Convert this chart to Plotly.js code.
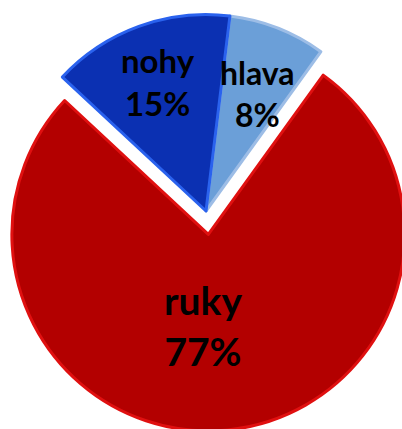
<!DOCTYPE html>
<html>
<head>
<meta charset="utf-8">
<script src="https://cdn.plot.ly/plotly-3.0.1.min.js"></script>
<style>
html,body{margin:0;padding:0;background:#fff;overflow:hidden;width:402px;height:429px;}
#chart{position:absolute;left:-14px;top:-9px;width:440px;height:440px;}
</style>
</head>
<body>
<div id="chart"></div>
<script>
var labels = ["hlava", "ruky", "nohy"];
var values = [8, 77, 15];
var colors = ["#6b9fd8", "#b30000", "#0b30b2"];
var rimColors = ["#9dbde6", "#e01010", "#2a62ee"];
var pulls = [0, 0.12, 0];

// label placement (paper fractions of the 440x440 figure)
var labelX = [0.618, 0.494, 0.392];
var labelY = [0.768, 0.24, 0.795];
var labelSize = [32, 39, 33];

var pieTrace = {
  type: "pie",
  labels: labels,
  values: values,
  sort: false,
  direction: "clockwise",
  rotation: 7,
  pull: pulls,
  textinfo: "none",
  hoverinfo: "label+percent",
  marker: { colors: colors, line: { color: rimColors, width: 3 } },
  showlegend: false
};

var total = values.reduce(function(a, b) { return a + b; }, 0);
var annotations = labels.map(function(lab, i) {
  return {
    xref: "paper", yref: "paper",
    x: labelX[i], y: labelY[i],
    xanchor: "center", yanchor: "middle",
    text: "<b>" + lab + "</b><br><b>" + Math.round(values[i] / total * 100) + "%</b>",
    showarrow: false,
    font: { family: "Lato, 'Open Sans', sans-serif", size: labelSize[i], color: "#000" },
    align: "center"
  };
});

var layout = {
  width: 440, height: 440,
  margin: { l: 0, r: 0, t: 0, b: 0 },
  paper_bgcolor: "#ffffff",
  annotations: annotations
};

Plotly.newPlot("chart", [pieTrace], layout, { displayModeBar: false, staticPlot: true });
</script>
</body>
</html>
